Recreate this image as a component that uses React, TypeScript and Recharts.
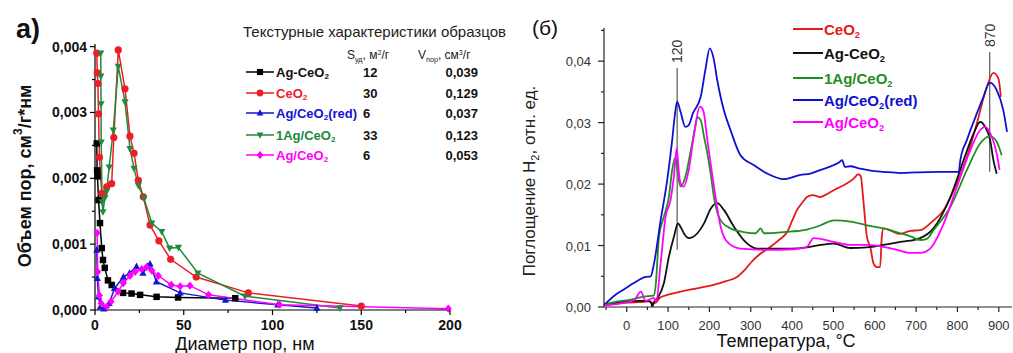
import React from 'react';
import { LineChart, Line, XAxis, YAxis, Legend, ReferenceLine } from 'recharts';

const FONT = '"Liberation Sans", Arial, Helvetica, sans-serif';

// ---------- a) pore size distribution: [diameter, nm ; volume, cm3/g*nm]
const poreAgCeO2 = [
  [1, 0.00253], [1.2, 0.00212], [1.4, 0.00203], [2, 0.00167], [2.8, 0.00132], [3.8, 0.00094],
  [4.5, 0.00076], [5.5, 0.00064], [7.3, 0.00045], [9.4, 0.00038], [15.8, 0.00026], [20.6, 0.00025],
  [25.4, 0.00023], [34.7, 0.0002], [46.8, 0.00019], [79, 0.00018],
];
const poreCeO2 = [
  [1, 0.0039], [1.3, 0.0036], [1.6, 0.00344], [2, 0.00298], [2.5, 0.00232], [3.8, 0.00177],
  [5, 0.00175], [6.6, 0.00187], [9.4, 0.00192], [10.6, 0.00262], [13.1, 0.00395], [16.9, 0.00336],
  [19.7, 0.00264], [22, 0.00238], [24.4, 0.00197], [27.2, 0.00172], [31, 0.00129], [36, 0.00105],
  [42.6, 0.00077], [57, 0.0005], [86.4, 0.00026], [150, 0.00006],
];
const pore1AgCeO2 = [
  [3.2, 0.0039], [3.3, 0.00355], [3.4, 0.00313], [3.5, 0.00255], [4, 0.00164], [4.5, 0.00149],
  [5.5, 0.0017], [6.5, 0.0018], [8, 0.00217], [10.3, 0.00273], [13.1, 0.0037], [16.9, 0.00316],
  [19.7, 0.00245], [22, 0.00215], [24.4, 0.00189], [27.5, 0.0017], [32, 0.00132], [37.6, 0.00119],
  [42, 0.00094], [47, 0.00095], [58, 0.00056], [84.5, 0.00021], [138, 0.00003],
];
const poreAgCeO2Red = [
  [1, 0.00091], [1.3, 0.00048], [2, 0.0002], [3, 0.00005], [5, 0.00002], [8, 0.0001], [11, 0.00033],
  [16, 0.0005], [19.5, 0.00056], [23.4, 0.00066], [27, 0.00056], [29.5, 0.00066], [31, 0.0007],
  [34.6, 0.00043], [48, 0.00026], [73.5, 0.00015], [103, 0.00008], [125, 0.00003],
];
const poreAgCeO2Imp = [
  [1.2, 0.00117], [1.5, 0.00058], [2.5, 0.00022], [3.5, 0.0001], [6.6, 0.00005], [9, 0.00013],
  [13, 0.00028], [16, 0.00041], [19.7, 0.00052], [22.6, 0.00058], [26.3, 0.00062], [29, 0.00065],
  [32, 0.0006], [35.7, 0.00052], [43, 0.00038], [48, 0.00036], [53.5, 0.00037], [64, 0.00023],
  [104, 0.00008], [199, 0.00002],
];

const sampleNames = ['Ag-CeO2', 'CeO2', 'Ag/CeO2(red)', '1Ag/CeO2', 'Ag/CeO2'];
const sampleColors = ['#000000', '#ee1c24', '#1414d4', '#22893c', '#ff00ff'];
const sampleMarkers = ['square', 'circle', 'up', 'down', 'diamond'];
const sampleSurface = ['12', '30', '6', '33', '6'];
const sampleVolume = ['0,039', '0,129', '0,037', '0,123', '0,053'];
const poreSeries = [poreAgCeO2, poreCeO2, poreAgCeO2Red, pore1AgCeO2, poreAgCeO2Imp];
const poreDrawOrder = [0, 1, 3, 2, 4];

const poreTicksX = [0, 25, 50, 75, 100, 125, 150, 175, 200];
const poreTicksY = [0, 0.0005, 0.001, 0.0015, 0.002, 0.0025, 0.003, 0.0035, 0.004];

// ---------- б) TPR-H2: [temperature, °C ; uptake, a.u.]
const tprCeO2 = [
  [-55, 0.0003], [-30, 0.0005], [0, 0.0007], [30, 0.0008], [55, 0.0009], [65, 0.0006], [72, 0.0008],
  [80, 0.0015], [100, 0.002], [130, 0.0025], [160, 0.0029], [190, 0.0033], [210, 0.0036], [240, 0.0042],
  [267, 0.0049], [285, 0.006], [300, 0.0072], [320, 0.0085], [348, 0.0098], [370, 0.011], [388, 0.0122],
  [400, 0.014], [412, 0.0158], [425, 0.017], [436, 0.0179], [450, 0.0182], [469, 0.0179], [490, 0.0186],
  [509, 0.0193], [530, 0.02], [549, 0.0209], [560, 0.0216], [566, 0.0213], [573, 0.0169], [581, 0.0114],
  [589, 0.0098], [597, 0.0071], [605, 0.0065], [613, 0.0065], [617, 0.0114], [621, 0.0128], [640, 0.0124],
  [660, 0.0119], [686, 0.0124], [710, 0.0125], [742, 0.0141], [767, 0.0158], [791, 0.019], [810, 0.022],
  [823, 0.0244], [847, 0.0299], [871, 0.0358], [887, 0.0381], [899, 0.0372], [905, 0.0342],
];
const tprAgCeO2 = [
  [-55, 0.0003], [-30, 0.0006], [0, 0.0009], [30, 0.001], [50, 0.001], [58, 0.0008], [62, 0.0001],
  [66, 0.0008], [75, 0.0015], [90, 0.0039], [102, 0.0082], [114, 0.0114], [124, 0.0136], [132, 0.0128],
  [140, 0.0118], [150, 0.0112], [160, 0.0114], [171, 0.012], [187, 0.0136], [203, 0.016], [219, 0.0169],
  [235, 0.0158], [259, 0.0131], [283, 0.0109], [300, 0.0099], [316, 0.0095], [356, 0.0095], [396, 0.0095],
  [436, 0.0097], [469, 0.0101], [501, 0.0103], [541, 0.0096], [581, 0.0097], [621, 0.0101], [662, 0.0106],
  [686, 0.0108], [710, 0.0112], [742, 0.0128], [783, 0.0179], [815, 0.0239], [839, 0.0282], [855, 0.0301],
  [867, 0.0293], [879, 0.0272], [887, 0.0239], [895, 0.0217],
];
const tpr1AgCeO2 = [
  [-55, 0.0004], [-22, 0.0009], [10, 0.0012], [42, 0.0017], [66, 0.0019], [70, 0.0035], [78, 0.0114],
  [90, 0.0147], [102, 0.0179], [110, 0.0223], [118, 0.0244], [124, 0.0215], [130, 0.0196], [142, 0.0212],
  [155, 0.0255], [165, 0.029], [171, 0.0309], [179, 0.0304], [187, 0.0277], [195, 0.025], [203, 0.0217],
  [211, 0.0179], [227, 0.0141], [251, 0.0128], [283, 0.0122], [312, 0.012], [324, 0.0128], [332, 0.012],
  [380, 0.0122], [436, 0.0126], [469, 0.0133], [501, 0.0141], [541, 0.0139], [581, 0.0133], [621, 0.0128],
  [662, 0.012], [686, 0.0115], [710, 0.0109], [726, 0.0111], [742, 0.0125], [783, 0.0163], [823, 0.0223],
  [855, 0.0266], [878, 0.0278], [895, 0.0269], [907, 0.0247],
];
const tprAgCeO2Red = [
  [-55, 0.0003], [-27, 0.002], [-6, 0.0029], [17, 0.0039], [46, 0.0049], [58, 0.005], [66, 0.0071],
  [82, 0.0141], [98, 0.0207], [110, 0.0272], [116, 0.031], [122, 0.0334], [130, 0.0318], [142, 0.0293],
  [150, 0.0296], [160, 0.0315], [179, 0.0342], [190, 0.0385], [201, 0.0421], [210, 0.0405], [219, 0.0369],
  [235, 0.032], [251, 0.0288], [275, 0.0247], [307, 0.0231], [340, 0.0217], [380, 0.0208], [420, 0.0215],
  [444, 0.0217], [469, 0.0223], [501, 0.0231], [515, 0.0236], [521, 0.0239], [528, 0.0228], [540, 0.0229],
  [565, 0.0225], [590, 0.0222], [621, 0.022], [662, 0.0218], [700, 0.0219], [760, 0.022], [803, 0.022],
  [807, 0.0239], [823, 0.0272], [847, 0.0315], [863, 0.0342], [878, 0.0365], [895, 0.0353], [911, 0.032],
  [920, 0.0285],
];
const tprAgCeO2Imp = [
  [-55, 0.0003], [-14, 0.0006], [18, 0.0011], [34, 0.0025], [46, 0.001], [66, 0.0015], [71, 0.0008],
  [82, 0.0071], [94, 0.0147], [106, 0.0174], [114, 0.0212], [121, 0.0258], [126, 0.022], [130, 0.0201],
  [138, 0.0196], [150, 0.0223], [163, 0.0282], [177, 0.0326], [185, 0.032], [195, 0.0272], [211, 0.0196],
  [227, 0.0131], [243, 0.0106], [275, 0.0095], [340, 0.0093], [404, 0.0094], [436, 0.0098], [452, 0.0112],
  [501, 0.0106], [541, 0.0101], [581, 0.0101], [621, 0.0098], [654, 0.0093], [686, 0.0088], [710, 0.0088],
  [734, 0.0095], [767, 0.0136], [799, 0.0196], [831, 0.0255], [855, 0.0288], [867, 0.0293], [883, 0.0277],
  [895, 0.025], [902, 0.0223],
];

const tprNames = ['CeO2', 'Ag-CeO2', '1Ag/CeO2', 'Ag/CeO2(red)', 'Ag/CeO2'];
const tprColors = ['#e3191c', '#111111', '#1f8f1f', '#1010d0', '#ff00ff'];
const tprSeries = [tprCeO2, tprAgCeO2, tpr1AgCeO2, tprAgCeO2Red, tprAgCeO2Imp];

const tprTicksX = [-50, 0, 50, 100, 150, 200, 250, 300, 350, 400, 450, 500, 550, 600, 650, 700, 750, 800, 850, 900];
const tprTicksY = [0, 0.005, 0.01, 0.015, 0.02, 0.025, 0.03, 0.035, 0.04, 0.045];

// peak marks: label, position, segment bottom/top
const peakLabels = ['120', '870'];
const peakT = [122, 878];
const peakLow = [0.0093, 0.022];
const peakHigh = [0.0389, 0.0415];

const toPoints = (arr: number[][]) => arr.map(([x, y]) => ({ x, y }));

// "CeO2" -> CeO with subscript 2
function Chem({ text }: { text: string }) {
  const parts = text.split(/(O2)/);
  return (
    <>
      {parts.map((p, i) =>
        p === 'O2' ? (
          <React.Fragment key={i}>
            O<span style={{ fontSize: '0.62em', position: 'relative', top: '0.35em' }}>2</span>
          </React.Fragment>
        ) : (
          <React.Fragment key={i}>{p}</React.Fragment>
        )
      )}
    </>
  );
}

function markerShape(shape: string, cx: number, cy: number, color: string, key?: any, r = 3.6) {
  if (cx == null || cy == null || isNaN(cx) || isNaN(cy)) return <g key={key} />;
  if (shape === 'square')
    return <rect key={key} x={cx - r * 0.9} y={cy - r * 0.9} width={r * 1.8} height={r * 1.8} fill={color} />;
  if (shape === 'circle') return <circle key={key} cx={cx} cy={cy} r={r} fill={color} />;
  if (shape === 'up')
    return <path key={key} d={`M${cx},${cy - r * 1.1}L${cx + r},${cy + r * 0.75}L${cx - r},${cy + r * 0.75}Z`} fill={color} />;
  if (shape === 'down')
    return <path key={key} d={`M${cx},${cy + r * 1.1}L${cx + r},${cy - r * 0.75}L${cx - r},${cy - r * 0.75}Z`} fill={color} />;
  return <path key={key} d={`M${cx},${cy - r * 1.15}L${cx + r},${cy}L${cx},${cy + r * 1.15}L${cx - r},${cy}Z`} fill={color} />;
}

const fmtComma = (v: number, d: number) => v.toFixed(d).replace('.', ',');

function PoreXTick(props: any) {
  const { x, y, payload } = props;
  const major = payload.value % 50 === 0;
  return (
    <g>
      <line x1={x} x2={x} y1={y} y2={y + (major ? 5 : 3)} stroke="#000" strokeWidth={1.2} />
      {major && (
        <text x={x} y={y + 20} textAnchor="middle" fontSize={14} fontWeight="bold" fill="#111" fontFamily={FONT}>
          {payload.value}
        </text>
      )}
    </g>
  );
}

function PoreYTick(props: any) {
  const { x, y, payload } = props;
  const major = Math.round(payload.value * 10000) % 10 === 0;
  return (
    <g>
      <line x1={x} x2={x - (major ? 5 : 3)} y1={y} y2={y} stroke="#000" strokeWidth={1.2} />
      {major && (
        <text x={x - 8} y={y + 5} textAnchor="end" fontSize={14} fontWeight="bold" fill="#111" fontFamily={FONT}>
          {fmtComma(payload.value, 3)}
        </text>
      )}
    </g>
  );
}

function TprXTick(props: any) {
  const { x, y, payload } = props;
  const major = payload.value % 100 === 0;
  return (
    <g>
      <line x1={x} x2={x} y1={y} y2={y + (major ? 5 : 3)} stroke="#222" strokeWidth={1.2} />
      {major && (
        <text x={x} y={y + 23} textAnchor="middle" fontSize={13} fill="#333" fontFamily={FONT}>
          {payload.value}
        </text>
      )}
    </g>
  );
}

function TprYTick(props: any) {
  const { x, y, payload } = props;
  const major = Math.round(payload.value * 1000) % 10 === 0;
  return (
    <g>
      <line x1={x} x2={x - (major ? 6 : 3)} y1={y} y2={y} stroke="#222" strokeWidth={1.2} />
      {major && (
        <text x={x - 13} y={y + 5} textAnchor="end" fontSize={13} fill="#333" fontFamily={FONT}>
          {fmtComma(payload.value, 2)}
        </text>
      )}
    </g>
  );
}

function LegendMarker({ shape, color }: { shape: string; color: string }) {
  return (
    <svg width={28} height={12} style={{ display: 'block' }}>
      <line x1={0} x2={28} y1={6} y2={6} stroke={color} strokeWidth={1.5} />
      {markerShape(shape, 14, 6, color, 'm', 3.4)}
    </svg>
  );
}

function PoreTable() {
  const rowY = [72, 93, 113, 135, 155];
  return (
    <div style={{ position: 'relative', width: 520, height: 353, fontFamily: FONT, pointerEvents: 'none' }}>
      <div style={{ position: 'absolute', left: 16, top: 16, fontSize: 27, fontWeight: 'bold', lineHeight: 1, color: '#111' }}>
        a)
      </div>
      <div style={{ position: 'absolute', left: 243, top: 24, fontSize: 15, lineHeight: 1, color: '#222', whiteSpace: 'nowrap' }}>
        Текстурные характеристики образцов
      </div>
      <div style={{ position: 'absolute', left: 347, top: 49, fontSize: 12, lineHeight: 1, color: '#222', whiteSpace: 'nowrap' }}>
        S<span style={{ fontSize: '0.6em', position: 'relative', top: '0.4em' }}>уд</span>, м
        <span style={{ fontSize: '0.6em', position: 'relative', top: '-0.6em' }}>2</span>/г
      </div>
      <div style={{ position: 'absolute', left: 418, top: 49, fontSize: 12, lineHeight: 1, color: '#222', whiteSpace: 'nowrap' }}>
        V<span style={{ fontSize: '0.6em', position: 'relative', top: '0.4em' }}>пор</span>, см
        <span style={{ fontSize: '0.6em', position: 'relative', top: '-0.6em' }}>3</span>/г
      </div>
      {sampleNames.map((name, i) => (
        <React.Fragment key={name + i}>
          <div style={{ position: 'absolute', left: 246, top: rowY[i] - 6 }}>
            <LegendMarker shape={sampleMarkers[i]} color={sampleColors[i]} />
          </div>
          <div
            style={{
              position: 'absolute', left: 276, top: rowY[i] - 6.5, fontSize: 13, fontWeight: 'bold',
              lineHeight: 1, color: sampleColors[i] === '#000000' ? '#111' : sampleColors[i], whiteSpace: 'nowrap',
            }}
          >
            <Chem text={name} />
          </div>
          <div style={{ position: 'absolute', left: 363, top: rowY[i] - 6.5, fontSize: 13, fontWeight: 'bold', lineHeight: 1, color: '#111' }}>
            {sampleSurface[i]}
          </div>
          <div
            style={{
              position: 'absolute', left: 428, width: 50, textAlign: 'right', top: rowY[i] - 6.5,
              fontSize: 13, fontWeight: 'bold', lineHeight: 1, color: '#111',
            }}
          >
            {sampleVolume[i]}
          </div>
        </React.Fragment>
      ))}
    </div>
  );
}

function TprLegend() {
  const rowY = [29, 53, 78, 100, 122];
  return (
    <div style={{ position: 'relative', width: 493, height: 353, fontFamily: FONT, pointerEvents: 'none' }}>
      <div style={{ position: 'absolute', left: 12, top: 17, fontSize: 21, lineHeight: 1, color: '#111' }}>(б)</div>
      {tprNames.map((name, i) => (
        <React.Fragment key={name + i}>
          <div style={{ position: 'absolute', left: 273, top: rowY[i] - 1, width: 30, height: 2, background: tprColors[i] }} />
          <div
            style={{
              position: 'absolute', left: 304, top: rowY[i] - 7.5, fontSize: 15, fontWeight: 'bold',
              lineHeight: 1, color: tprColors[i], whiteSpace: 'nowrap',
            }}
          >
            <Chem text={name} />
          </div>
        </React.Fragment>
      ))}
    </div>
  );
}

function PoreChart() {
  return (
    <LineChart width={520} height={353} margin={{ top: 44, right: 70, bottom: 0, left: 0 }}>
      <XAxis
        type="number"
        dataKey="x"
        domain={[0, 200]}
        ticks={poreTicksX}
        interval={0}
        height={43}
        tickSize={0}
        tickMargin={0}
        tickLine={false}
        axisLine={{ stroke: '#000', strokeWidth: 1.2 }}
        tick={(p: any) => <PoreXTick {...p} />}
        label={(p: any) => (
          <text x={245} y={350} textAnchor="middle" fontSize={18} fill="#111" fontFamily={FONT}>
            Диаметр пор, нм
          </text>
        )}
      />
      <YAxis
        type="number"
        dataKey="y"
        domain={[0, 0.00404]}
        ticks={poreTicksY}
        interval={0}
        width={95}
        tickSize={0}
        tickMargin={0}
        tickLine={false}
        axisLine={{ stroke: '#000', strokeWidth: 1.2 }}
        tick={(p: any) => <PoreYTick {...p} />}
        label={(p: any) => (
          <text
            x={31}
            y={176}
            transform="rotate(-90 31 176)"
            textAnchor="middle"
            fontSize={18}
            fontWeight="bold"
            fill="#111"
            fontFamily={FONT}
          >
            Объем пор, см
            <tspan fontSize={12} dy={-9}>3</tspan>
            <tspan dy={9}>/г*нм</tspan>
          </text>
        )}
      />
      {poreDrawOrder.map((i) => (
        <Line
          key={sampleNames[i] + i}
          data={toPoints(poreSeries[i])}
          dataKey="y"
          type="linear"
          stroke={sampleColors[i]}
          strokeWidth={1.5}
          isAnimationActive={false}
          activeDot={false}
          dot={(p: any) => markerShape(sampleMarkers[i], p.cx, p.cy, sampleColors[i], `${i}-${p.index}`)}
        />
      ))}
      <Legend
        layout="vertical"
        align="center"
        verticalAlign="middle"
        wrapperStyle={{ left: 0, top: 0, width: 520, height: 353 }}
        content={() => <PoreTable />}
      />
    </LineChart>
  );
}

function TprChart() {
  return (
    <LineChart width={493} height={353} margin={{ top: 28, right: 1, bottom: 0, left: 0 }}>
      <XAxis
        type="number"
        dataKey="x"
        domain={[-53, 932]}
        ticks={tprTicksX}
        interval={0}
        height={46}
        tickSize={0}
        tickMargin={0}
        tickLine={false}
        axisLine={{ stroke: '#222', strokeWidth: 1.2 }}
        tick={(p: any) => <TprXTick {...p} />}
        label={(p: any) => (
          <text x={266} y={347} textAnchor="middle" fontSize={18} fill="#111" fontFamily={FONT}>
            Температура, °C
          </text>
        )}
      />
      <YAxis
        type="number"
        dataKey="y"
        domain={[0, 0.0454]}
        ticks={tprTicksY}
        interval={0}
        width={84}
        tickSize={0}
        tickMargin={0}
        tickLine={false}
        axisLine={{ stroke: '#222', strokeWidth: 1.2 }}
        tick={(p: any) => <TprYTick {...p} />}
        label={(p: any) => (
          <text
            x={15}
            y={181}
            transform="rotate(-90 15 181)"
            textAnchor="middle"
            fontSize={17}
            fill="#222"
            fontFamily={FONT}
          >
            Поглощение H
            <tspan fontSize={11} dy={4}>2</tspan>
            <tspan dy={-4}>, отн. ед.</tspan>
          </text>
        )}
      />
      {peakLabels.map((lab, i) => (
        <ReferenceLine
          key={lab}
          segment={[{ x: peakT[i], y: peakLow[i] }, { x: peakT[i], y: peakHigh[i] }]}
          stroke="#666"
          strokeWidth={1.3}
          label={(p: any) => {
            const vb = p.viewBox || {};
            const x = vb.x ?? vb.x1 ?? 0;
            const y = vb.y ?? Math.min(vb.y1 ?? 0, vb.y2 ?? 0);
            return (
              <text
                x={x + 5}
                y={y - 5}
                transform={`rotate(-90 ${x + 5} ${y - 5})`}
                fontSize={14}
                fill="#333"
                fontFamily={FONT}
              >
                {lab}
              </text>
            );
          }}
        />
      ))}
      {tprSeries.map((s, i) => (
        <Line
          key={tprNames[i] + i}
          data={toPoints(s)}
          dataKey="y"
          type="monotone"
          stroke={tprColors[i]}
          strokeWidth={1.8}
          dot={false}
          activeDot={false}
          isAnimationActive={false}
        />
      ))}
      <Legend
        layout="vertical"
        align="center"
        verticalAlign="middle"
        wrapperStyle={{ left: 0, top: 0, width: 493, height: 353 }}
        content={() => <TprLegend />}
      />
    </LineChart>
  );
}

export default function App() {
  return (
    <div style={{ position: 'absolute', left: 0, top: 0, width: 1013, height: 353, background: '#fff', overflow: 'hidden' }}>
      <div style={{ position: 'absolute', left: 0, top: 0 }}>
        <PoreChart />
      </div>
      <div style={{ position: 'absolute', left: 520, top: 0 }}>
        <TprChart />
      </div>
    </div>
  );
}
